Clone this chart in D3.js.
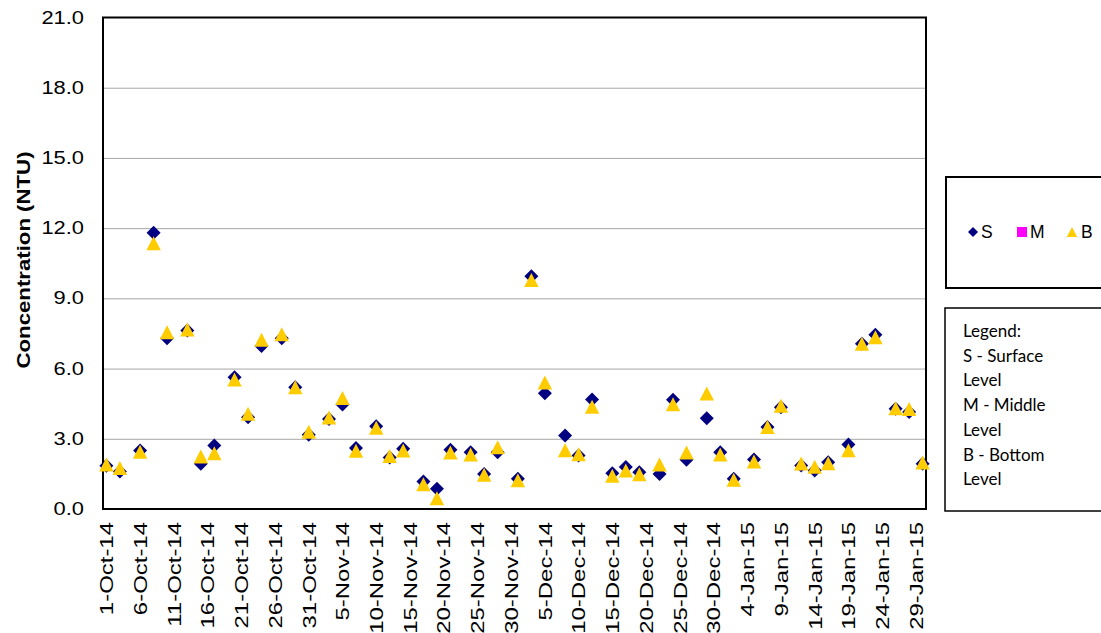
<!DOCTYPE html>
<html>
<head>
<meta charset="utf-8">
<script src="https://cdn.jsdelivr.net/npm/d3@7"></script>
<style>
  body { margin: 0; background: #fff; }
  svg { display: block; }
</style>
</head>
<body>
<script>
// ---- data ----
const sampleDates = ["2014-10-01","2014-10-03","2014-10-06","2014-10-08","2014-10-10","2014-10-13","2014-10-15","2014-10-17",
  "2014-10-20","2014-10-22","2014-10-24","2014-10-27","2014-10-29","2014-10-31","2014-11-03","2014-11-05","2014-11-07",
  "2014-11-10","2014-11-12","2014-11-14","2014-11-17","2014-11-19","2014-11-21","2014-11-24","2014-11-26","2014-11-28",
  "2014-12-01","2014-12-03","2014-12-05","2014-12-08","2014-12-10","2014-12-12","2014-12-15","2014-12-17","2014-12-19",
  "2014-12-22","2014-12-24","2014-12-26","2014-12-29","2014-12-31","2015-01-02","2015-01-05","2015-01-07","2015-01-09",
  "2015-01-12","2015-01-14","2015-01-16","2015-01-19","2015-01-21","2015-01-23","2015-01-26","2015-01-28","2015-01-30"];
const surfaceValues = [1.85,1.6,2.5,11.8,7.3,7.63,1.93,2.71,5.63,3.92,6.96,7.3,5.2,3.17,3.85,4.47,2.61,
  3.54,2.2,2.57,1.18,0.86,2.53,2.43,1.5,2.43,1.29,9.94,4.95,3.14,2.29,4.68,1.53,1.79,1.57,
  1.5,4.67,2.1,3.88,2.43,1.29,2.11,3.5,4.35,1.86,1.65,2.0,2.76,7.06,7.44,4.28,4.14,1.93];
const middleValues = []; // no middle-level readings shown
const bottomValues = [1.9,1.75,2.45,11.35,7.55,7.67,2.24,2.38,5.53,4.07,7.23,7.47,5.2,3.3,3.91,4.74,2.49,
  3.47,2.26,2.5,1.06,0.46,2.41,2.33,1.46,2.64,1.23,9.78,5.41,2.51,2.34,4.37,1.42,1.65,1.49,
  1.9,4.48,2.41,4.94,2.33,1.25,2.03,3.5,4.41,1.94,1.8,1.96,2.51,7.06,7.34,4.31,4.27,1.99];
const xTickLabels = ["1-Oct-14","6-Oct-14","11-Oct-14","16-Oct-14","21-Oct-14","26-Oct-14","31-Oct-14","5-Nov-14",
  "10-Nov-14","15-Nov-14","20-Nov-14","25-Nov-14","30-Nov-14","5-Dec-14","10-Dec-14","15-Dec-14","20-Dec-14",
  "25-Dec-14","30-Dec-14","4-Jan-15","9-Jan-15","14-Jan-15","19-Jan-15","24-Jan-15","29-Jan-15"];
const yTicks = [0,3,6,9,12,15,18,21];
const legendKeys = ["S","M","B"];
const legendNotes = ["Legend:","S - Surface","Level","M - Middle","Level","B - Bottom","Level"];

// ---- layout ----
const W = 1101, H = 633;
const L = 103, R = 926, T = 17.5, B = 509;
const parseISO = d3.utcParse("%Y-%m-%d");
const parseTick = d3.utcParse("%d-%b-%y");

const svg = d3.select("body").append("svg").attr("width", W).attr("height", H)
  .style("font-family", "'Liberation Sans', Arial, sans-serif");

const x = d3.scaleUtc()
  .domain([new Date(Date.UTC(2014, 8, 30, 12)), new Date(Date.UTC(2015, 0, 30, 12))])
  .range([L, R]);
const y = d3.scaleLinear().domain([0, 21]).range([B, T]);

function stretch(sel, k) {
  sel.each(function () {
    const n = this.getComputedTextLength();
    d3.select(this).attr("textLength", n * k).attr("lengthAdjust", "spacingAndGlyphs");
  });
}

// gridlines
const grid = svg.append("g").attr("transform", `translate(${L},0)`)
  .call(d3.axisLeft(y).tickValues(yTicks.filter(v => v > 0 && v < 21)).tickSize(-(R - L)).tickFormat(""));
grid.select(".domain").remove();
grid.selectAll("line").attr("stroke", "#a6a6a6").attr("stroke-width", 1);

// y axis labels
const yAxis = svg.append("g").attr("transform", `translate(${L},0)`)
  .call(d3.axisLeft(y).tickValues(yTicks).tickSize(0).tickPadding(19).tickFormat(d3.format(".1f")));
yAxis.select(".domain").remove();
yAxis.selectAll("text").attr("font-size", 17.5).attr("fill", "#000")
  .style("font-family", "'Liberation Sans', Arial, sans-serif");
stretch(yAxis.selectAll("text"), 1.25);

// x axis labels
const xAxis = svg.append("g").attr("transform", `translate(0,${B})`)
  .call(d3.axisBottom(x).tickValues(xTickLabels.map(parseTick)).tickSize(0)
    .tickFormat(d3.utcFormat("%-d-%b-%y")));
xAxis.select(".domain").remove();
xAxis.selectAll("text")
  .attr("font-size", 18).attr("fill", "#000")
  .style("font-family", "'Liberation Sans', Arial, sans-serif")
  .attr("transform", "rotate(-90)")
  .attr("x", -13).attr("y", 0).attr("dy", "0.35em")
  .style("text-anchor", "end");
stretch(xAxis.selectAll("text"), 1.33);

// plot border
svg.append("rect").attr("x", L).attr("y", T).attr("width", R - L).attr("height", B - T)
  .attr("fill", "none").attr("stroke", "#000").attr("stroke-width", 2);

// y title
const yTitle = svg.append("text")
  .attr("transform", `translate(30,260) rotate(-90)`)
  .attr("text-anchor", "middle")
  .attr("font-size", 18.5).attr("font-weight", "bold")
  .text("Concentration (NTU)");
stretch(yTitle, 1.2);

// markers
const diamond = s => `M0,${-s}L${s},0L0,${s}L${-s},0Z`;
const triangle = s => `M0,${-s}L${s * 1.03},${s}L${-s * 1.03},${s}Z`;
const square = s => `M${-s},${-s}H${s}V${s}H${-s}Z`;

const sData = sampleDates.map((d, i) => ({ date: parseISO(d), v: surfaceValues[i] }));
const mData = middleValues.map((v, i) => ({ date: parseISO(sampleDates[i]), v }));
const bData = sampleDates.map((d, i) => ({ date: parseISO(d), v: bottomValues[i] }));

svg.append("g").selectAll("path").data(sData).join("path")
  .attr("transform", d => `translate(${x(d.date)},${y(d.v)})`)
  .attr("d", diamond(7)).attr("fill", "#000080");
svg.append("g").selectAll("path").data(mData).join("path")
  .attr("transform", d => `translate(${x(d.date)},${y(d.v)})`)
  .attr("d", square(5)).attr("fill", "#FF00FF");
svg.append("g").selectAll("path").data(bData).join("path")
  .attr("transform", d => `translate(${x(d.date)},${y(d.v)})`)
  .attr("d", triangle(7)).attr("fill", "#FFCC00");

// legend box 1
svg.append("rect").attr("x", 946).attr("y", 177).attr("width", 170).attr("height", 111)
  .attr("fill", "#fff").attr("stroke", "#000").attr("stroke-width", 2);
const legendStyle = {
  S: { shape: diamond(5), color: "#000080", mx: 973, tx: 981 },
  M: { shape: square(5), color: "#FF00FF", mx: 1022, tx: 1030 },
  B: { shape: triangle(5), color: "#FFCC00", mx: 1072, tx: 1081 }
};
const lg = svg.append("g").selectAll("g").data(legendKeys).join("g");
lg.append("path").attr("transform", k => `translate(${legendStyle[k].mx},232)`)
  .attr("d", k => legendStyle[k].shape).attr("fill", k => legendStyle[k].color);
lg.append("text").attr("x", k => legendStyle[k].tx).attr("y", 238)
  .attr("font-size", 17.5).text(k => k);

// legend box 2
svg.append("rect").attr("x", 945).attr("y", 308).attr("width", 170).attr("height", 203)
  .attr("fill", "#fff").attr("stroke", "#000").attr("stroke-width", 1.5);
svg.append("g").selectAll("text").data(legendNotes).join("text")
  .attr("x", 963).attr("y", (d, i) => 337 + i * 24.7)
  .attr("font-size", 17)
  .style("font-family", "Lato, 'Open Sans', sans-serif")
  .text(d => d);
</script>
</body>
</html>
